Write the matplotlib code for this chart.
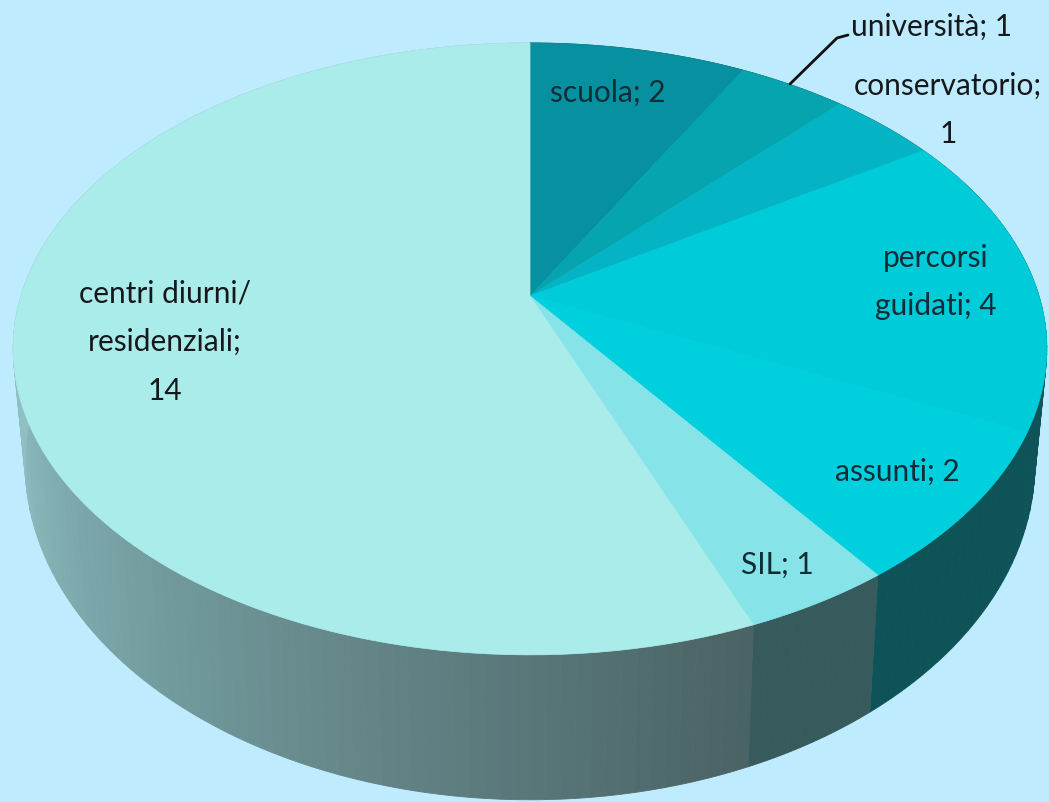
"""Torta 3D: percorsi dopo la scuola. Prospettiva fatta a mano perche' matplotlib non ha pie 3D."""
import numpy as np
import matplotlib
matplotlib.use("Agg")
import matplotlib.pyplot as plt
from matplotlib.colors import to_rgb

categories = ["scuola", "università", "conservatorio", "percorsi\nguidati", "assunti", "SIL",
              "centri diurni/\nresidenziali;"]
values = [2, 1, 1, 4, 2, 1, 14]

top_colors = ["#07909f", "#06a4ae", "#05b4c4", "#00cbd9", "#00cfdd", "#86e3e8", "#aaecea"]
# lato: colore a inizio e fine fetta (senso orario)
wall_start = ["#0d5357", "#0d5357", "#0d5357", "#0d5357", "#0e5357", "#375b5c", "#4a6365"]
wall_end = ["#0d5357", "#0d5357", "#0d5357", "#0d5357", "#0e5357", "#375b5c", "#8fc1c4"]

BG = "#bfebff"
CX, CY = 530, 296
A, B, PERSP = 509, 296.8, 0.173
BOT_X, BOT_Y, BOT_OFF = 0.977, 1.10, 109


def project(theta):
    """angolo (0 = in alto, senso orario) -> offset sul piano del disco"""
    s, u = np.sin(theta), np.cos(theta)
    w = 1 + PERSP * u
    return A * s / w, -B * u / w


def top_pts(theta):
    x, y = project(theta)
    return CX + x, CY + y


def bot_pts(theta):
    x, y = project(theta)
    return CX + BOT_X * x, CY + BOT_Y * y + BOT_OFF


fig = plt.figure(figsize=(10.49, 8.02), dpi=100, facecolor=BG)
ax = fig.add_axes([0, 0, 1, 1])
ax.set_xlim(0, 1049)
ax.set_ylim(802, 0)
ax.axis("off")

edges = np.cumsum([0] + values) / sum(values) * 2 * np.pi

# lato: da dietro verso davanti, a strisce per la sfumatura
for i in range(len(values)):
    a0, a1 = edges[i], edges[i + 1]
    n = max(int((a1 - a0) * 40), 2)
    ts = np.linspace(a0, a1, n + 1)
    c0, c1 = np.array(to_rgb(wall_start[i])), np.array(to_rgb(wall_end[i]))
    for k in range(n):
        t = np.linspace(ts[k], ts[k + 1], 4)
        tx, ty = top_pts(t)
        bx, by = bot_pts(t)
        col = c0 + (c1 - c0) * min(k / (0.5 * n), 1)
        ax.fill(np.r_[tx, bx[::-1]], np.r_[ty, by[::-1]], color=col, lw=0.6, zorder=1)

# faccia superiore
for i in range(len(values)):
    t = np.linspace(edges[i], edges[i + 1], 120)
    x, y = top_pts(t)
    ax.fill(np.r_[CX, x], np.r_[CY, y], color=top_colors[i], lw=0.5, zorder=2)

font = dict(family="Lato", fontsize=21.5, color="#102c36", ha="center", va="center", zorder=4,
            linespacing=1.9)
ax.text(608, 93, f"{categories[0]}; {values[0]}", **font)
ax.text(932, 27, f"{categories[1]}; {values[1]}", **{**font, "color": "#15191c"})
ax.text(948, 110, f"{categories[2]};\n{values[2]}", **{**font, "color": "#15191c"})
ax.text(936, 282, f"{categories[3]}; {values[3]}", **font)
ax.text(897, 472, f"{categories[4]}; {values[4]}", **font)
ax.text(777, 565, f"{categories[5]}; {values[5]}", **font)
ax.text(165, 342, f"{categories[6]}\n{values[6]}", **{**font, "color": "#15191c"})

# linea guida per università
ax.plot([790, 837, 848], [84, 38, 35], color="#111111", lw=2, zorder=4, solid_capstyle="round")

fig.savefig("out.png", dpi=100, facecolor=BG)
